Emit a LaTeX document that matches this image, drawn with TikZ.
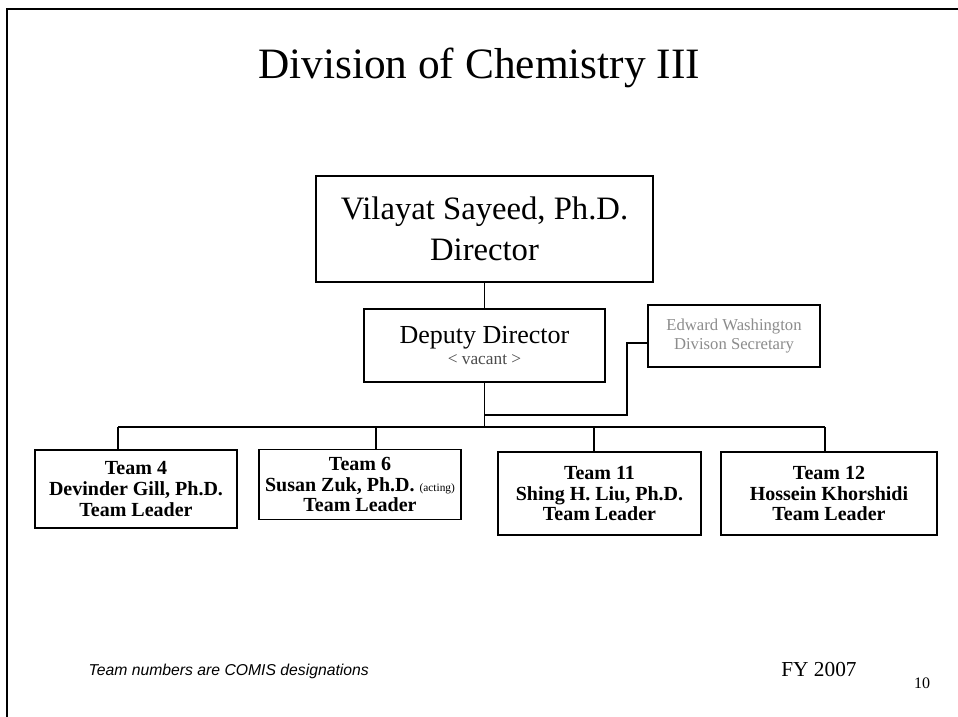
\documentclass[tikz,border=0pt]{standalone}
\usepackage{fontspec}
\setmainfont{Liberation Serif}
\setsansfont{Liberation Sans}
\begin{document}
\begin{tikzpicture}[x=0.75pt,y=-0.75pt,
  frame/.style={line width=1.6pt},
  link/.style={line width=1.3pt},
  orgbox/.style={draw,line width=1.4pt,align=center,inner sep=0pt},
  teambox/.style={orgbox,font=\fontsize{15}{15.5}\selectfont\bfseries},
  secbox/.style={orgbox,text=black!45,font=\fontsize{12.5}{14}\selectfont}]
\useasboundingbox (0,0) rectangle (958,717);
\fill[white] (0,0) rectangle (958,717);

% slide frame: top and left edges
\draw[frame] (958,9) -- (7,9) -- (7,717);

% title
\node (title) at (479,68) {\fontsize{32.5}{36}\selectfont Division of Chemistry III};

% director and deputy
\node[orgbox,minimum width=252.75pt,minimum height=79.5pt,
      font=\fontsize{24.5}{31}\selectfont] (dir) at (484.5,229)
  {Vilayat Sayeed, Ph.D.\\Director};
\node[orgbox,minimum width=180.75pt,minimum height=54.75pt] (dep) at (484.5,345.5)
  {\fontsize{19.5}{20}\selectfont Deputy Director\\[4pt]
   {\fontsize{13}{14}\selectfont\color{black!70}< vacant >}};

% secretary
\node[secbox,minimum width=129pt,minimum height=46.5pt] (sec) at (734,336)
  {Edward Washington\\Divison Secretary};

% teams
\node[teambox,minimum width=151.5pt,minimum height=58.5pt] (t4) at (136,489)
  {Team 4\\Devinder Gill, Ph.D.\\Team Leader};
\node[teambox,minimum width=151.5pt,minimum height=52.5pt] (t6) at (360,484.5)
  {Team 6\\Susan Zuk, Ph.D. {\fontsize{8.5}{9}\selectfont\mdseries (acting)}\\Team Leader};
\node[teambox,minimum width=152.25pt,minimum height=62.25pt] (t11) at (599.5,493.5)
  {Team 11\\Shing H. Liu, Ph.D.\\Team Leader};
\node[teambox,minimum width=162pt,minimum height=62.25pt] (t12) at (829,493.5)
  {Team 12\\Hossein Khorshidi\\Team Leader};

% junction points of the connectors
\coordinate (sj) at (484.5,415);
\coordinate (sk) at (627,343);
\coordinate (b4) at (118,427);
\coordinate (b6) at (376,427);
\coordinate (b11) at (594,427);
\coordinate (b12) at (825,427);

% connectors
\draw[link] (dir.south) -- (dep.north);
\draw[link] (dep.south) -- (dep.south |- b4);
\draw[link] (sj) -| (sk) -- (sk -| sec.west);
\draw[link] (b4) -- (b12);
\draw[link] (b4) -- (b4 |- t4.north);
\draw[link] (b6) -- (b6 |- t6.north);
\draw[link] (b11) -- (b11 |- t11.north);
\draw[link] (b12) -- (b12 |- t12.north);

% footer
\node[anchor=west,font=\sffamily\itshape\fontsize{11.8}{13}\selectfont] (note) at (84,671)
  {Team numbers are COMIS designations};
\node[font=\fontsize{16}{18}\selectfont] (fy) at (819,670) {FY 2007};
\node[font=\fontsize{12}{14}\selectfont] (page) at (922,683) {10};
\end{tikzpicture}
\end{document}
